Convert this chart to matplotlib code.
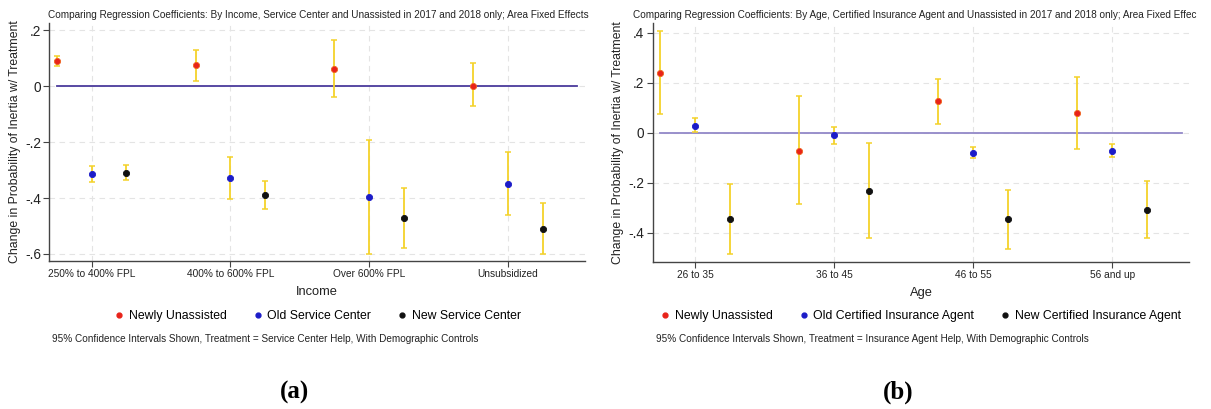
import matplotlib
matplotlib.use("Agg")
import matplotlib.pyplot as plt
from matplotlib.lines import Line2D

plt.rcParams['font.family'] = ['Liberation Sans', 'DejaVu Sans']

# ---------------- Data ----------------
income_cats = ["250% to 400% FPL", "400% to 600% FPL", "Over 600% FPL", "Unsubsidized"]
inc_newly = [0.089, 0.075, 0.063, 0.002]
inc_newly_lo = [0.073, 0.018, -0.039, -0.072]
inc_newly_hi = [0.108, 0.129, 0.166, 0.082]
inc_old = [-0.314, -0.328, -0.397, -0.349]
inc_old_lo = [-0.343, -0.404, -0.600, -0.462]
inc_old_hi = [-0.284, -0.253, -0.192, -0.235]
inc_new = [-0.309, -0.389, -0.471, -0.509]
inc_new_lo = [-0.335, -0.440, -0.580, -0.600]
inc_new_hi = [-0.280, -0.338, -0.365, -0.418]

age_cats = ["26 to 35", "36 to 45", "46 to 55", "56 and up"]
age_newly = [0.240, -0.072, 0.125, 0.080]
age_newly_lo = [0.073, -0.287, 0.033, -0.064]
age_newly_hi = [0.407, 0.145, 0.216, 0.221]
age_old = [0.028, -0.009, -0.080, -0.073]
age_old_lo = [0.001, -0.044, -0.101, -0.096]
age_old_hi = [0.057, 0.024, -0.057, -0.047]
age_new = [-0.347, -0.232, -0.347, -0.308]
age_new_lo = [-0.487, -0.423, -0.465, -0.423]
age_new_hi = [-0.205, -0.041, -0.229, -0.192]

left_yticks = [0.2, 0, -0.2, -0.4, -0.6]
left_yticklabels = [".2", "0", "-.2", "-.4", "-.6"]
right_yticks = [0.4, 0.2, 0, -0.2, -0.4]
right_yticklabels = [".4", ".2", "0", "-.2", "-.4"]

COL_RED = "#e8231a"
COL_BLUE = "#1c1cc8"
COL_BLACK = "#111111"
COL_CI = "#f4d22a"

fig = plt.figure(figsize=(12.11, 4.09), dpi=100)


def panel(ax, cats, series, yticks, yticklabels, ylim, title, title_x, xlabel, legend_labels,
          note, letter, hline_color, fig_center_x):
    pos = range(1, len(cats) + 1)
    offsets = [-0.25, 0.0, 0.25]
    colors = [COL_RED, COL_BLUE, COL_BLACK]
    for (vals, lo, hi), off, col in zip(series, offsets, colors):
        xs = [p + off for p in pos]
        yerr = [[v - l for v, l in zip(vals, lo)], [h - v for v, h in zip(vals, hi)]]
        ax.errorbar(xs, vals, yerr=yerr, fmt='none', ecolor=COL_CI, elinewidth=1.3,
                    capsize=2.2, capthick=1.1, zorder=3)
        ax.scatter(xs, vals, s=20, color=col, edgecolors=col if col != COL_RED else "#f0641e",
                   linewidths=0.6, zorder=4)
    ax.plot([0.75, 4.5], [0, 0], color=hline_color, lw=1.3, zorder=2)
    ax.set_xlim(0.695, 4.555)
    ax.set_ylim(*ylim)
    ax.set_xticks(list(pos))
    ax.set_xticklabels(cats, fontsize=7.3, color="#222222")
    ax.set_yticks(yticks)
    ax.set_yticklabels(yticklabels, fontsize=9.8, color="#222222")
    ax.grid(True, color="#e4e4e4", linestyle=(0, (5, 4)), lw=0.8, zorder=0)
    for s in ["top", "right"]:
        ax.spines[s].set_visible(False)
    for s in ["left", "bottom"]:
        ax.spines[s].set_color("#444444")
        ax.spines[s].set_linewidth(1.0)
    ax.tick_params(axis='both', length=4, width=0.8, color="#444444", pad=2)
    ax.set_xlabel(xlabel, fontsize=9.3, color="#222222", labelpad=5)
    ax.set_ylabel("Change in Probability of Inertia w/ Treatment", fontsize=8.8,
                  color="#222222", labelpad=3)
    fig.text(title_x, 1 - 14.5 / 409, title, fontsize=7.17, color="#222222",
             ha='left', va='center')
    handles = [Line2D([], [], marker='o', ls='none', color=c, markersize=3.5) for c in colors]
    fig.legend(handles, legend_labels, loc='center', ncol=3,
               bbox_to_anchor=(fig_center_x, 1 - 316 / 409), frameon=False,
               fontsize=8.8, handletextpad=0.3, columnspacing=2.0, handlelength=1.0)
    bb = ax.get_position()
    fig.text(bb.x0 + 3 / 1211, 1 - 339 / 409, note, fontsize=7.2, color="#222222",
             va='center', ha='left')
    fig.text(fig_center_x - 22 / 1211, 1 - 392 / 409, letter, fontsize=18,
             fontweight='bold', family='Liberation Serif', ha='center', va='center')


axL = fig.add_axes([49.3 / 1211, 1 - 260.7 / 409, (585 - 49.3) / 1211, (260.7 - 23) / 409])
panel(axL, income_cats,
      [(inc_newly, inc_newly_lo, inc_newly_hi), (inc_old, inc_old_lo, inc_old_hi),
       (inc_new, inc_new_lo, inc_new_hi)],
      left_yticks, left_yticklabels, (-0.624, 0.226),
      "Comparing Regression Coefficients: By Income, Service Center and Unassisted in 2017 and 2018 only; Area Fixed Effects",
      48 / 1211,
      "Income", ["Newly Unassisted", "Old Service Center", "New Service Center"],
      "95% Confidence Intervals Shown, Treatment = Service Center Help, With Demographic Controls",
      "(a)", "#4b3b9c", 317 / 1211)

axR = fig.add_axes([652.7 / 1211, 1 - 261.7 / 409, (1189.3 - 652.7) / 1211, (261.7 - 23) / 409])
panel(axR, age_cats,
      [(age_newly, age_newly_lo, age_newly_hi), (age_old, age_old_lo, age_old_hi),
       (age_new, age_new_lo, age_new_hi)],
      right_yticks, right_yticklabels, (-0.516, 0.439),
      "Comparing Regression Coefficients: By Age, Certified Insurance Agent and Unassisted in 2017 and 2018 only; Area Fixed Effec",
      633 / 1211,
      "Age", ["Newly Unassisted", "Old Certified Insurance Agent", "New Certified Insurance Agent"],
      "95% Confidence Intervals Shown, Treatment = Insurance Agent Help, With Demographic Controls",
      "(b)", "#9288c8", 920 / 1211)

fig.savefig("out.png", dpi=100, facecolor="white")
